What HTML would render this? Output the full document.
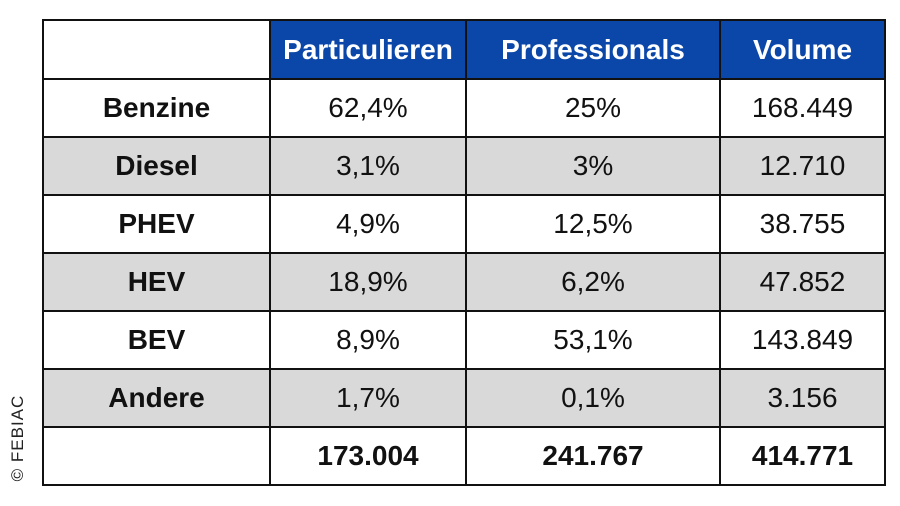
<!DOCTYPE html>
<html><head><meta charset="utf-8"><style>
html,body{margin:0;padding:0;background:#fff;width:900px;height:506px;overflow:hidden;font-family:"Liberation Sans",sans-serif;}
table{position:absolute;left:42px;top:19px;border-collapse:collapse;table-layout:fixed;}
td{border:2px solid #111;text-align:center;font-size:28px;color:#111;padding:0;height:56px;letter-spacing:0;}
tr.h td{height:57px;}
td.hd{background:#0b47a8;color:#fff;font-weight:bold;border-color:#111;}
td.b{font-weight:bold;}
tr.g td{background:#d9d9d9;}
.c{position:absolute;left:4px;top:438px;transform:rotate(-90deg);transform-origin:center;width:100px;margin-left:-36px;margin-top:-10px;font-size:17px;color:#222;text-align:center;letter-spacing:1px;}
</style></head><body>
<table>
<colgroup><col style="width:227px"><col style="width:196px"><col style="width:254px"><col style="width:165px"></colgroup>
<tr class="h"><td style="background:#fff"></td><td class="hd">Particulieren</td><td class="hd">Professionals</td><td class="hd">Volume</td></tr>
<tr><td class="b">Benzine</td><td>62,4%</td><td>25%</td><td>168.449</td></tr>
<tr class="g"><td class="b">Diesel</td><td>3,1%</td><td>3%</td><td>12.710</td></tr>
<tr><td class="b">PHEV</td><td>4,9%</td><td>12,5%</td><td>38.755</td></tr>
<tr class="g"><td class="b">HEV</td><td>18,9%</td><td>6,2%</td><td>47.852</td></tr>
<tr><td class="b">BEV</td><td>8,9%</td><td>53,1%</td><td>143.849</td></tr>
<tr class="g"><td class="b">Andere</td><td>1,7%</td><td>0,1%</td><td>3.156</td></tr>
<tr><td></td><td class="b">173.004</td><td class="b">241.767</td><td class="b">414.771</td></tr>
</table>
<div class="c">© FEBIAC</div>
</body></html>
